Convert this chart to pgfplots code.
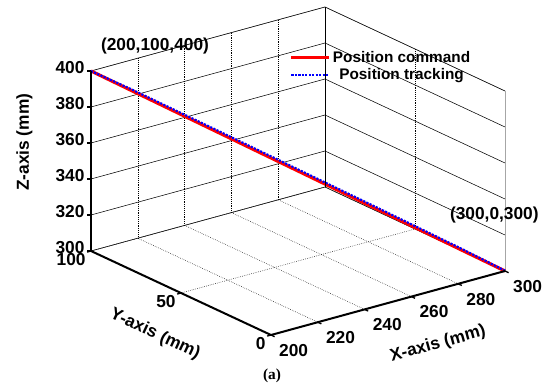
\documentclass[border=0pt]{standalone}
\usepackage{pgfplots}
\pgfplotsset{compat=1.18}
\usepackage{fontspec}
\setmainfont{Liberation Sans}
\newfontfamily\serifcap{Liberation Serif}
\begin{document}
\begin{tikzpicture}
\begin{axis}[
  x={(1.755pt,0.48pt)}, y={(-1.35pt,0.63pt)}, z={(0pt,1.35pt)},
  xmin=200, xmax=300, ymin=0, ymax=100, zmin=300, zmax=400,
  xtick={200,220,...,300}, ytick={0,50,100}, ztick={300,320,...,400},
  grid=major,
  x grid style={densely dotted, black, line width=0.4pt},
  y grid style={densely dotted, black, line width=0.4pt},
  z grid style={solid, black, line width=0.4pt},
  axis line style={gray!70, line width=0.5pt},
  tick style={draw=none},
  tick align=outside,
  tick pos=left,
  major tick length=3pt,
  /pgf/number format/assume math mode=true,
  /pgf/number format/1000 sep={},
  ticklabel style={font=\fontsize{13}{14}\selectfont\bfseries},
  xticklabel style={inner sep=1.5pt, xshift=9pt, yshift=-2pt},
  zticklabel style={inner sep=2pt},
  yticklabel style={anchor=north east, inner sep=1pt},
  legend style={draw=none, fill=none, at={(0.47,0.88)}, anchor=north west,
    font=\fontsize{11.5}{12.5}\selectfont\bfseries, row sep=0pt,
    nodes={inner sep=1.5pt}},
  legend cell align=center,
  legend image code/.code={\draw[#1] (0cm,0cm) -- (1.0cm,0cm);},
  clip=false,
]
\addplot3[red, line width=2.4pt] coordinates {
(200,100,400) (210,90,390) (220,80,380) (230,70,370) (240,60,360) (250,50,350)
(260,40,340) (270,30,330) (280,20,320) (290,10,310) (300,0,300)};
\addlegendentry{Position command}
\addplot3[blue, densely dotted, line width=1.6pt] coordinates {
(200,100,400) (210,90,390.7) (220,80,380.8) (230,70,370.9) (240,60,360.9) (250,50,350.9)
(260,40,340.9) (270,30,330.9) (280,20,320.8) (290,10,310.7) (300,0,300.2)};
\addlegendentry{Position tracking}
% front axes thick
\draw[black, line width=1.5pt] (axis cs:200,100,300) -- (axis cs:200,100,400);
\draw[black, line width=1.5pt] (axis cs:200,100,300) -- (axis cs:200,0,300);
\draw[black, line width=1.5pt] (axis cs:200,0,300) -- (axis cs:300,0,300);
\draw[black, line width=0.6pt] (axis cs:300,100,300) -- (axis cs:300,100,400);
% ticks
\pgfplotsinvokeforeach{300,320,...,400}{\draw[black, line width=1pt] (axis cs:200,100,#1) -- ++(-3pt,0pt);}
\pgfplotsinvokeforeach{0,50,100}{\draw[black, line width=1pt] (axis cs:200,#1,300) -- ++(-2.9pt,-0.8pt);}
\pgfplotsinvokeforeach{200,220,...,300}{\draw[black, line width=1pt] (axis cs:#1,0,300) -- ++(2.7pt,-1.27pt);}
\node[font=\fontsize{13}{14}\selectfont\bfseries, rotate=15.3] at ([shift={(37.5pt,-30.75pt)}]axis cs:250,0,300) {X-axis (mm)};
\node[font=\fontsize{13}{14}\selectfont\bfseries, rotate=-25] at ([shift={(-19.5pt,-31pt)}]axis cs:200,50,300) {Y-axis (mm)};
\node[font=\fontsize{13}{14}\selectfont\bfseries, rotate=90] at ([shift={(-50pt,14pt)}]axis cs:200,100,350) {Z-axis (mm)};
\node[font=\fontsize{13}{14}\selectfont\bfseries] at ([shift={(48pt,19pt)}]axis cs:200,100,400) {(200,100,400)};
\node[font=\fontsize{13}{14}\selectfont\bfseries] at ([shift={(-8pt,42pt)}]axis cs:300,0,300) {(300,0,300)};
\node[font=\serifcap\fontsize{11.5}{13}\selectfont\bfseries] at ([shift={(0.75pt,-30.75pt)}]axis cs:200,0,300) {(a)};
% frame matching the reference's margins
\path (axis cs:200,100,300) ++(-68.25pt,-99pt) rectangle ++(414pt,287.25pt);
\end{axis}
\end{tikzpicture}
\end{document}
